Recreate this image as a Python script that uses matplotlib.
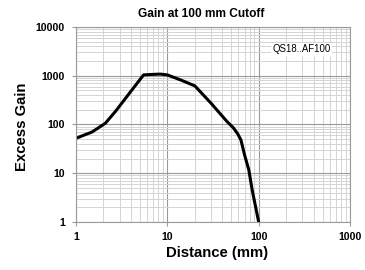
import numpy as np
import matplotlib.pyplot as plt
from matplotlib.ticker import LogLocator, FixedLocator, NullFormatter

plt.rcParams['font.family'] = ['Liberation Sans', 'DejaVu Sans']

distance = [1, 1.5, 2.1, 2.7, 4.1, 5.5, 6.5, 8.4, 10, 14, 20, 30, 45, 53, 59, 64, 70, 78, 85, 100]
gain = [52, 70, 106, 184, 510, 1040, 1060, 1080, 1040, 820, 620, 275, 115, 85, 64, 48, 24, 11.7, 4.5, 1]

fig = plt.figure(figsize=(3.65, 2.70), dpi=100)
ax = fig.add_axes([0.208, 0.178, 0.751, 0.722])

ax.set_xscale('log')
ax.set_yscale('log')
ax.set_xlim(1, 1000)
ax.set_ylim(1, 10000)

ax.xaxis.set_major_locator(FixedLocator([1, 10, 100, 1000]))
ax.yaxis.set_major_locator(FixedLocator([1, 10, 100, 1000, 10000]))
ax.xaxis.set_minor_locator(LogLocator(base=10, subs=np.arange(2, 10), numticks=20))
ax.yaxis.set_minor_locator(LogLocator(base=10, subs=np.arange(2, 10), numticks=20))
ax.xaxis.set_minor_formatter(NullFormatter())
ax.yaxis.set_minor_formatter(NullFormatter())
ax.set_xticklabels(['1', '10', '100', '1000'])
ax.set_yticklabels(['1', '10', '100', '1000', '10000'])

ax.grid(which='major', color='#9a9a9a', linewidth=0.8)
ax.grid(which='minor', color='#d4d4d4', linewidth=0.7)
ax.set_axisbelow(True)
for s in ax.spines.values():
    s.set_color('#9a9a9a')
    s.set_linewidth(0.8)

ax.tick_params(which='major', length=3, color='#9a9a9a', labelsize=7.6)
ax.tick_params(axis='y', pad=5)
ax.tick_params(axis='x', pad=4)
ax.tick_params(which='minor', length=0)
for lab in ax.get_xticklabels() + ax.get_yticklabels():
    lab.set_fontweight('bold')

ax.plot(distance, gain, color='black', linewidth=2.2, solid_joinstyle='round')

ax.text(0.93, 0.885, 'QS18..AF100', transform=ax.transAxes, ha='right', va='center',
        fontsize=6.9, bbox=dict(facecolor='white', edgecolor='none', pad=1))

fig.text(201 / 365, 1 - 14 / 270, 'Gain at 100 mm Cutoff', ha='center', va='center',
         fontsize=8.6, fontweight='bold')
fig.text(217 / 365, 1 - 253 / 270, 'Distance (mm)', ha='center', va='center',
         fontsize=10.7, fontweight='bold')
fig.text(22 / 365, 1 - 127 / 270, 'Excess Gain', ha='center', va='center',
         rotation=90, fontsize=10.7, fontweight='bold')

fig.savefig('out.png', dpi=100)
